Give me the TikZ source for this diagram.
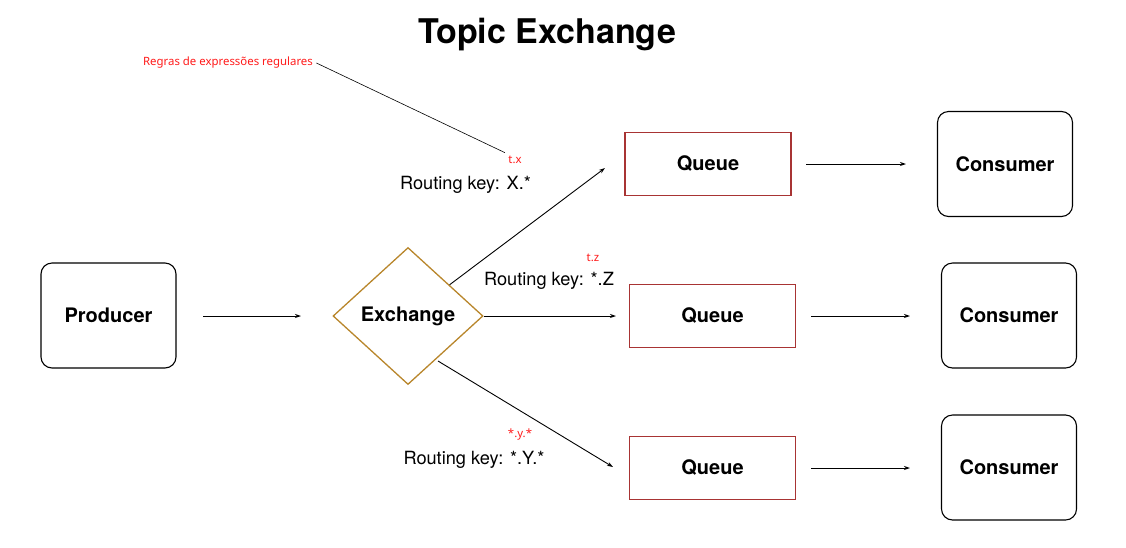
\documentclass[tikz,border=0pt]{standalone}
\usepackage{fontspec}
\setmainfont{TeX Gyre Heros}
\newfontfamily\redfont{Noto Sans}
\usetikzlibrary{shapes.geometric,arrows.meta}
\definecolor{gold}{HTML}{B8862B}
\definecolor{qred}{HTML}{A83434}
\definecolor{lred}{HTML}{FF1A1A}
\begin{document}
\begin{tikzpicture}[x=1pt,y=-1pt,
  rbox/.style={draw=black,line width=1.1pt,rounded corners=11pt,minimum width=135pt,minimum height=105pt,font=\fontsize{20}{22}\selectfont\bfseries},
  qbox/.style={draw=qred,line width=1.1pt,minimum width=166pt,minimum height=63pt,font=\fontsize{20}{22}\selectfont\bfseries},
  xdiam/.style={draw=gold,line width=1.3pt,diamond,inner sep=0pt,minimum width=150pt,minimum height=137pt,font=\fontsize{20}{22}\selectfont\bfseries},
  arr/.style={-{Stealth[length=6pt,width=4pt]},line width=0.9pt},
  klab/.style={font=\fontsize{18.2}{20}\selectfont},
  rlab/.style={text=lred,font=\redfont\fontsize{11.4}{13}\selectfont}]
\useasboundingbox (0,0) rectangle (1126,547);
\node[font=\fontsize{34}{38}\selectfont\bfseries] (title) at (547,35) {Topic Exchange};
\node[rbox] (prod) at (108.5,315.5) {Producer};
\node[xdiam] (ex) at (408,316) {Exchange};
\node[qbox] (q1) at (708,164) {Queue};
\node[qbox] (q2) at (712.5,316) {Queue};
\node[qbox] (q3) at (712.5,468) {Queue};
\node[rbox] (c1) at (1005,164) {Consumer};
\node[rbox] (c2) at (1009,315.5) {Consumer};
\node[rbox] (c3) at (1009,467.5) {Consumer};
\coordinate (pa) at (203,316);
\coordinate (pb) at (301,316);
\coordinate (t1) at (605,168);
\coordinate (t2) at (616,316);
\coordinate (b0) at (438,361);
\coordinate (t3) at (613,467);
\coordinate (c1a) at (806,164);
\coordinate (c1b) at (906,164);
\coordinate (c2a) at (811,316);
\coordinate (c2b) at (910,316);
\coordinate (c3a) at (811,468);
\coordinate (c3b) at (910,468);
\draw[arr] (pa) -- (pb);
\draw[arr] (ex) -- (t1);
\draw[arr] (ex.east) -- (t2);
\draw[arr] (b0) -- (t3);
\draw[arr] (c1a) -- (c1b);
\draw[arr] (c2a) -- (c2b);
\draw[arr] (c3a) -- (c3b);
\node[klab] (k1) at (465.5,185) {Routing key: X.*};
\node[klab] (k2) at (549,281) {Routing key: *.Z};
\node[klab] (k3) at (474,460) {Routing key: *.Y.*};
\node[rlab] (r0) at (228,63) {Regras de expressões regulares};
\node[rlab] (r1) at (515,160) {t.x};
\node[rlab] (r2) at (593,258) {t.z};
\node[rlab] (r3) at (520,435) {*.y.*};
\draw[line width=0.6pt] (r0.east) -- (r1.north west);
\end{tikzpicture}
\end{document}
